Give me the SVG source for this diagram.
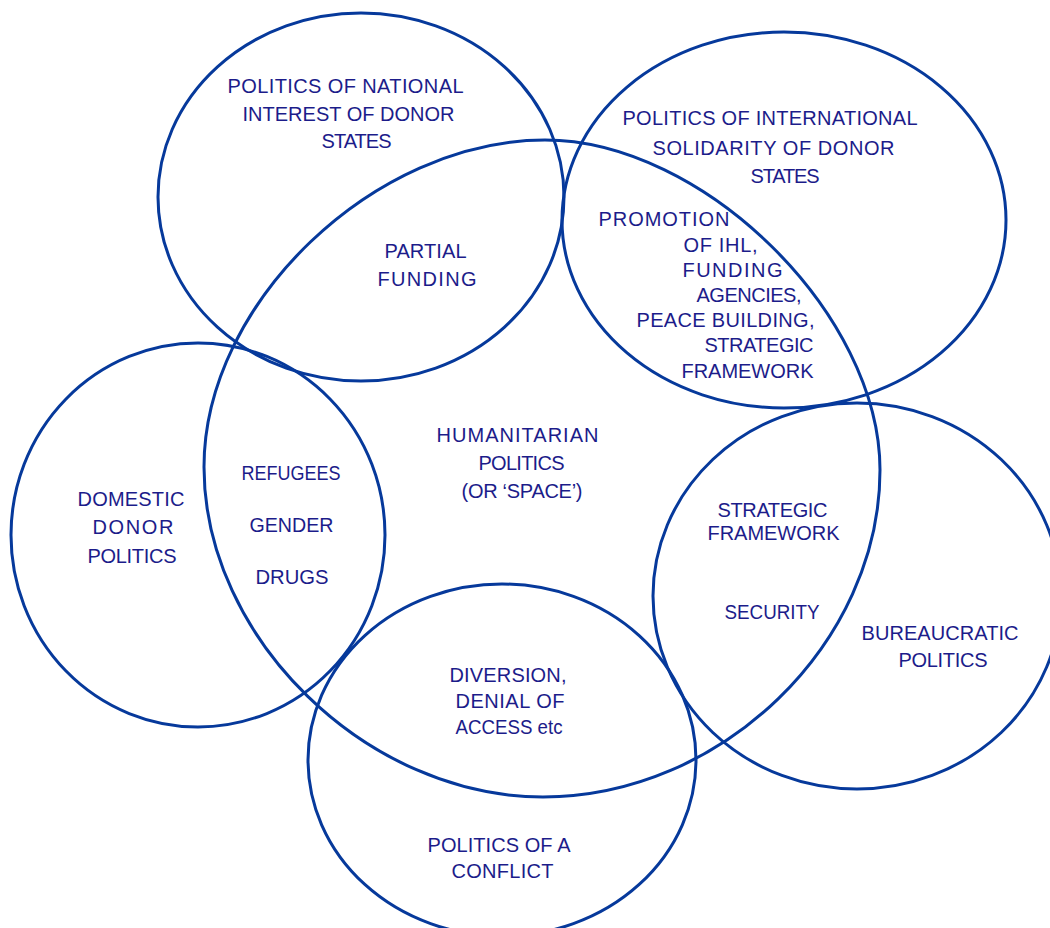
<svg xmlns="http://www.w3.org/2000/svg" width="1050" height="928" viewBox="0 0 1050 928">
<style>
.c{fill:none;stroke:#06399b;stroke-width:3}
text{font-family:"Liberation Sans",Arial,sans-serif;font-size:20px;fill:#1c1c8a;text-anchor:middle}
</style>
<rect width="1050" height="928" fill="#fff"/>
<g id="national-interest"><ellipse class="c" cx="361" cy="197" rx="203" ry="184"/>
<text x="345.5" y="93" textLength="236">POLITICS OF NATIONAL</text><text x="348.5" y="121" textLength="212">INTEREST OF DONOR</text><text x="356.5" y="148" textLength="70">STATES</text></g>
<g id="international-solidarity"><ellipse class="c" cx="784" cy="220" rx="222" ry="188"/>
<text x="770" y="125" textLength="295">POLITICS OF INTERNATIONAL</text><text x="773.5" y="155" textLength="242">SOLIDARITY OF DONOR</text><text x="785" y="183" textLength="69">STATES</text></g>
<g id="humanitarian"><path class="c" d="M880 470C880 314 703 140 545 140C374 140 204 303 204 467C204 638 367 797 543 797C722 797 880 643 880 470Z"/>
<text x="517.5" y="442" textLength="162">HUMANITARIAN</text><text x="521.5" y="470" textLength="86">POLITICS</text><text x="522" y="498" textLength="121">(OR ‘SPACE’)</text></g>
<g id="domestic"><ellipse class="c" cx="198" cy="535" rx="187" ry="192"/>
<text x="131" y="506" textLength="107">DOMESTIC</text><text x="133" y="534" textLength="81">DONOR</text><text x="132" y="563" textLength="89">POLITICS</text></g>
<g id="bureaucratic"><ellipse class="c" cx="857" cy="596" rx="204" ry="193"/>
<text x="940" y="640" textLength="157">BUREAUCRATIC</text><text x="943" y="667" textLength="89">POLITICS</text></g>
<g id="conflict"><ellipse class="c" cx="502" cy="760" rx="194" ry="176"/>
<text x="499" y="852" textLength="143">POLITICS OF A</text><text x="502.5" y="878" textLength="102">CONFLICT</text></g>
<g id="partial-funding"><text x="425.5" y="258" textLength="82">PARTIAL</text><text x="427" y="286" textLength="99">FUNDING</text></g>
<g id="promotion"><text x="664" y="226" textLength="131">PROMOTION</text><text x="720.5" y="252" textLength="74">OF IHL,</text><text x="732.5" y="277" textLength="100">FUNDING</text><text x="749" y="302" textLength="105">AGENCIES,</text><text x="725.5" y="327" textLength="178">PEACE BUILDING,</text><text x="759" y="352" textLength="109">STRATEGIC</text><text x="747.5" y="378" textLength="132">FRAMEWORK</text></g>
<g id="refugees"><text x="291" y="480" textLength="99" lengthAdjust="spacingAndGlyphs">REFUGEES</text><text x="291.5" y="532" textLength="84" lengthAdjust="spacingAndGlyphs">GENDER</text><text x="292" y="584" textLength="73" lengthAdjust="spacingAndGlyphs">DRUGS</text></g>
<g id="strategic-security"><text x="772.5" y="517" textLength="110">STRATEGIC</text><text x="773.5" y="540" textLength="132">FRAMEWORK</text><text x="772" y="619" textLength="95" lengthAdjust="spacingAndGlyphs">SECURITY</text></g>
<g id="diversion"><text x="508" y="682" textLength="117">DIVERSION,</text><text x="510" y="708" textLength="109">DENIAL OF</text><text x="509" y="734" textLength="107" lengthAdjust="spacingAndGlyphs">ACCESS etc</text></g>
<g id="connectors"/>
</svg>
